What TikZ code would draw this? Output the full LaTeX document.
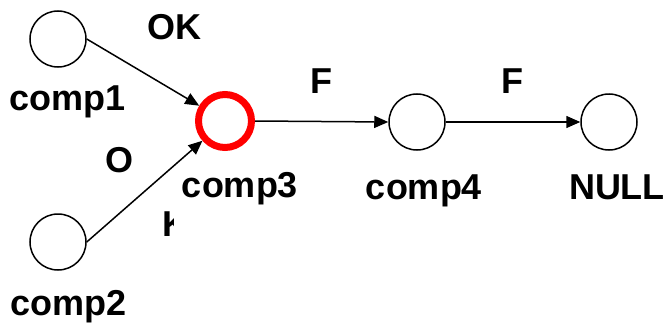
\documentclass[tikz,border=0pt]{standalone}
\usepackage{fontspec}
\setmainfont{Liberation Sans}
\usetikzlibrary{arrows.meta}

\begin{document}
\begin{tikzpicture}[x=1pt, y=-1pt,
  % Node Styles
  cnode/.style={circle, draw, line width=1.5pt, inner sep=0pt, minimum size=56pt},
  rednode/.style={circle, draw=red, line width=7pt, inner sep=0pt, minimum size=53pt},
  lbl/.style={inner sep=0pt, anchor=base, font=\fontsize{36}{40}\selectfont\bfseries},
  % Arrow Styles
  solidarrow/.style={-{Triangle[length=14pt,width=12pt]}, line width=1.5pt},
]
\useasboundingbox (0,0) rectangle (670,332);

% components

\node[cnode] (comp1) at (58,39) {};
\node[cnode] (comp2) at (58,242) {};
\node[rednode] (comp3) at (225,121) {};
\node[cnode] (comp4) at (417,122) {};
\node[cnode] (NULL) at (609,122) {};

\node[lbl] (L_comp1) at (68,110) {comp1};
\node[lbl] (L_comp2) at (69,315) {comp2};
\node[lbl] (L_comp3) at (240,197) {comp3};
\node[lbl] (L_comp4) at (424,199) {comp4};
\node[lbl] (L_NULL) at (617,199) {NULL};

\node[lbl] (L_OK) at (174,39) {OK};
\node[lbl] (L_O) at (120,172) {O};
\begin{scope}
  \clip (150,200) rectangle (173,245);
  \node[lbl, anchor=base west] (L_K) at (162.5,236) {K};
\end{scope}
\node[lbl] (L_F1) at (321,93) {F};
\node[lbl] (L_F2) at (512,93) {F};

\draw[solidarrow] (comp1.east) -- (comp3);
\draw[solidarrow] (comp2.east) -- (comp3);
\draw[solidarrow] (comp3.east) -- (comp4.west);
\draw[solidarrow] (comp4.east) -- (NULL.west);

\end{tikzpicture}
\end{document}
